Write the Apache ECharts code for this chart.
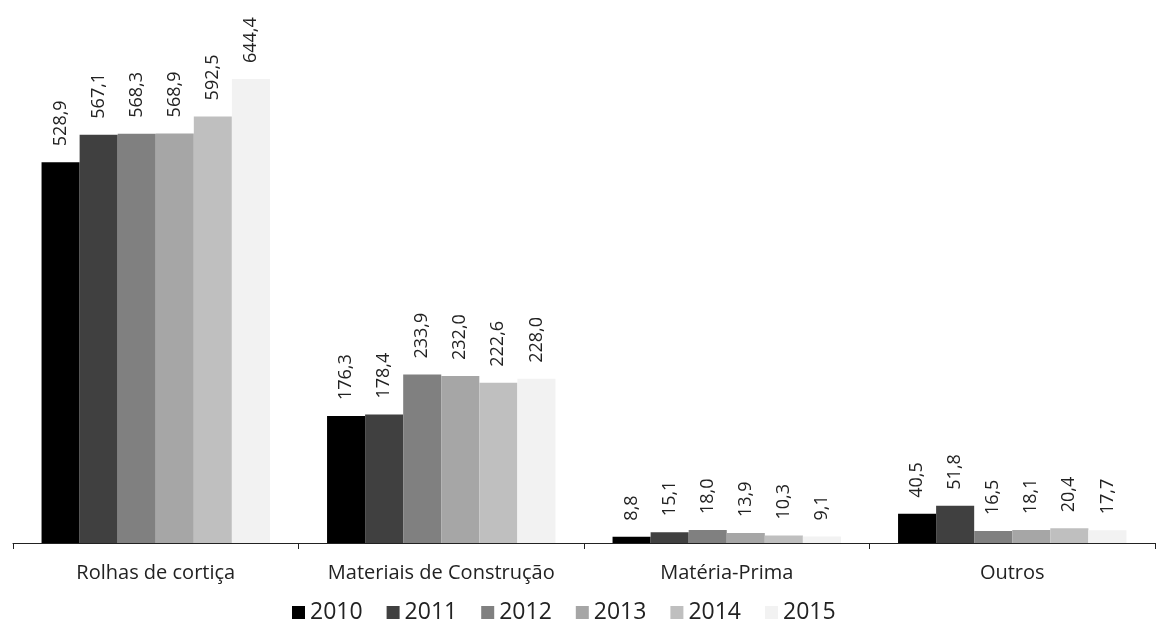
<!DOCTYPE html>
<html>
<head>
<meta charset="utf-8">
<script src="https://cdn.jsdelivr.net/npm/echarts@6/dist/echarts.min.js"></script>
<style>
  html, body { margin: 0; padding: 0; background: #fff; }
  #chart { width: 1156px; height: 623px; }
</style>
</head>
<body>
<div id="chart"></div>
<script>
const categories = ['Rolhas de cortiça', 'Materiais de Construção', 'Matéria-Prima', 'Outros']
const years = ['2010', '2011', '2012', '2013', '2014', '2015']
const v2010 = [528.9, 176.3, 8.8, 40.5]
const v2011 = [567.1, 178.4, 15.1, 51.8]
const v2012 = [568.3, 233.9, 18.0, 16.5]
const v2013 = [568.9, 232.0, 13.9, 18.1]
const v2014 = [592.5, 222.6, 10.3, 20.4]
const v2015 = [644.4, 228.0, 9.1, 17.7]
const values = [v2010, v2011, v2012, v2013, v2014, v2015]
const colors = ['#000000', '#404040', '#808080', '#a6a6a6', '#bfbfbf', '#f2f2f2']

const font = '"Open Sans", "Noto Sans", sans-serif'
const chart = echarts.init(document.getElementById('chart'))

chart.setOption({
    animation: false,
    textStyle: { fontFamily: font },
    grid: { left: 13, right: 1, top: 39, bottom: 80, containLabel: false },
    legend: {
        top: 596,
        left: 287,
        itemWidth: 13,
        itemHeight: 13,
        itemGap: 24,
        icon: 'rect',
        textStyle: { fontSize: 23, color: '#222', fontFamily: font },
        data: years
    },
    xAxis: {
        type: 'category',
        data: categories,
        axisLine: { lineStyle: { color: '#222', width: 1 } },
        axisTick: { show: true, interval: 0, length: 6, lineStyle: { color: '#222' } },
        axisLabel: { interval: 0, fontSize: 20, color: '#222', margin: 20, fontFamily: font }
    },
    yAxis: {
        type: 'value',
        min: 0,
        max: 700,
        show: false,
        splitLine: { show: false }
    },
    series: years.map((y, i) => ({
        name: y,
        type: 'bar',
        data: values[i],
        barGap: '0%',
        barCategoryGap: '20%',
        itemStyle: { color: colors[i] },
        label: {
            show: true,
            position: 'top',
            rotate: 90,
            align: 'left',
            verticalAlign: 'middle',
            distance: 16,
            fontSize: 18,
            color: '#222',
            fontFamily: font,
            formatter: p => p.value.toFixed(1).replace('.', ',')
        }
    }))
})
</script>
</body>
</html>
